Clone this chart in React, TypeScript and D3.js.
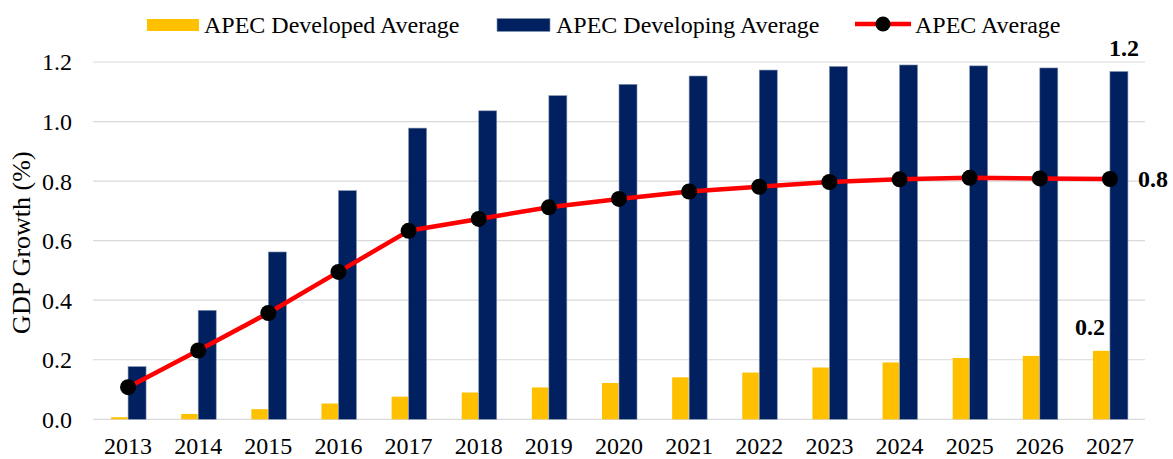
import React from "react";
import * as d3 from "d3";

const years = ["2013", "2014", "2015", "2016", "2017", "2018", "2019", "2020", "2021", "2022", "2023", "2024", "2025", "2026", "2027"];
const developed = [0.007, 0.018, 0.034, 0.053, 0.076, 0.090, 0.107, 0.122, 0.141, 0.157, 0.174, 0.191, 0.206, 0.213, 0.230];
const developing = [0.177, 0.366, 0.562, 0.768, 0.978, 1.036, 1.087, 1.125, 1.153, 1.173, 1.185, 1.190, 1.187, 1.180, 1.168];
const average = [0.108, 0.231, 0.357, 0.495, 0.633, 0.673, 0.712, 0.740, 0.765, 0.781, 0.797, 0.806, 0.811, 0.809, 0.807];
const yTicks = [0, 0.2, 0.4, 0.6, 0.8, 1.0, 1.2];

const W = 1173, H = 459;
const margin = { top: 62, right: 28, bottom: 39.7, left: 93 };
const font = "'Liberation Serif', 'Times New Roman', serif";
const YELLOW = "#ffc000", NAVY = "#002060", RED = "#ff0000";

export default function App() {
  const innerW = W - margin.left - margin.right;
  const innerH = H - margin.top - margin.bottom;

  const x = d3.scaleBand().domain(years).range([0, innerW]);
  const y = d3.scaleLinear().domain([0, 1.2]).range([innerH, 0]);
  const barW = 17;
  const cx = (yr: string) => (x(yr) as number) + x.bandwidth() / 2;

  const line = d3.line<number>()
    .x((d, i) => cx(years[i]))
    .y(d => y(d));

  const last = years[years.length - 1];
  const n = years.length - 1;

  return (
    <svg width={W} height={H} style={{ position: "absolute", left: 0, top: 0, fontFamily: font }}>
      <rect width={W} height={H} fill="#fff" />
      {/* legend */}
      <g fontSize={24} fill="#000">
        <rect x={147} y={19} width={52} height={12} fill={YELLOW} />
        <text x={204} y={33}>APEC Developed Average</text>
        <rect x={497} y={18.5} width={53} height={13} fill={NAVY} stroke="#8496b0" strokeWidth={0.6} />
        <text x={556} y={33}>APEC Developing Average</text>
        <line x1={855} x2={911} y1={24} y2={24} stroke={RED} strokeWidth={4.5} />
        <circle cx={883} cy={24} r={7.5} fill="#000" />
        <text x={915} y={33}>APEC Average</text>
      </g>
      <g transform={`translate(${margin.left},${margin.top})`}>
        {yTicks.map(t => (
          <g key={t}>
            <line x1={0} x2={innerW} y1={y(t)} y2={y(t)} stroke="#d9d9d9" strokeWidth={1.2} />
            <text x={-21} y={y(t)} dy="0.35em" textAnchor="end" fontSize={24}>{d3.format(".1f")(t)}</text>
          </g>
        ))}
        {years.map((yr, i) => (
          <g key={yr}>
            <rect x={cx(yr) - barW} y={y(developed[i])} width={barW - 0.5} height={innerH - y(developed[i])} fill={YELLOW} />
            <rect x={cx(yr)} y={y(developing[i])} width={barW + 1} height={innerH - y(developing[i])} fill={NAVY} stroke="#8496b0" strokeWidth={0.6} />
            <text x={cx(yr)} y={innerH + 35} textAnchor="middle" fontSize={24}>{yr}</text>
          </g>
        ))}
        <path d={line(average) || ""} fill="none" stroke={RED} strokeWidth={4.5} strokeLinejoin="round" />
        {average.map((v, i) => (
          <circle key={i} cx={cx(years[i])} cy={y(v)} r={8} fill="#000" />
        ))}
        <g fontSize={24} fontWeight="bold">
          <text x={cx(last) + 14} y={y(developing[n]) - 16} textAnchor="middle">{d3.format(".1f")(developing[n])}</text>
          <text x={cx(last) + 28} y={y(average[n])} dy="0.35em">{d3.format(".1f")(average[n])}</text>
          <text x={cx(last) - 20} y={y(developed[n]) - 16} textAnchor="middle">{d3.format(".1f")(developed[n])}</text>
        </g>
      </g>
      <text transform={`translate(30,${margin.top + innerH / 2 + 2}) rotate(-90)`} textAnchor="middle" fontSize={26}>GDP Growth (%)</text>
    </svg>
  );
}
